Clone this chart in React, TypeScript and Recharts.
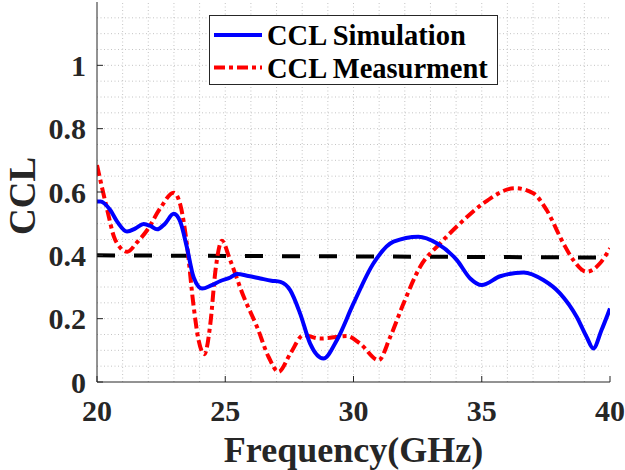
import React from 'react';
import { LineChart, Line, XAxis, YAxis, ReferenceLine } from 'recharts';

const simFreq = [20, 20.14, 20.5, 20.8, 21.17, 21.5, 21.82, 22.1, 22.34, 22.65, 22.99, 23.25, 23.5, 23.77, 24.1, 24.45, 24.81, 25.2, 25.46, 25.9, 26.37, 26.8, 27.15, 27.53, 27.92, 28.31, 28.83, 29.35, 30.0, 30.78, 31.56, 32.53, 33.25, 34.03, 34.55, 35.0, 35.72, 36.63, 37.4, 38.05, 38.7, 39.09, 39.35, 39.67, 40];
const simValue = [0.57, 0.57, 0.545, 0.505, 0.475, 0.485, 0.499, 0.492, 0.482, 0.5, 0.531, 0.505, 0.427, 0.33, 0.295, 0.305, 0.319, 0.33, 0.341, 0.335, 0.327, 0.32, 0.316, 0.29, 0.216, 0.121, 0.074, 0.132, 0.248, 0.375, 0.443, 0.459, 0.438, 0.385, 0.327, 0.306, 0.334, 0.346, 0.322, 0.28, 0.206, 0.142, 0.106, 0.164, 0.232];

const measFreq = [20, 20.4, 20.66, 20.9, 21.18, 21.55, 21.96, 22.47, 22.99, 23.25, 23.5, 23.77, 23.96, 24.19, 24.42, 24.62, 24.87, 25.19, 25.72, 26.24, 26.69, 27.08, 27.54, 28.05, 28.7, 29.74, 30.26, 30.98, 31.43, 31.95, 32.6, 33.38, 34.16, 35.07, 36.3, 37.01, 37.53, 38.18, 38.57, 39.09, 39.61, 40];
const measValue = [0.685, 0.543, 0.459, 0.425, 0.411, 0.44, 0.48, 0.549, 0.598, 0.559, 0.438, 0.237, 0.132, 0.088, 0.185, 0.353, 0.446, 0.385, 0.269, 0.174, 0.079, 0.032, 0.09, 0.148, 0.137, 0.145, 0.121, 0.069, 0.142, 0.248, 0.364, 0.438, 0.501, 0.565, 0.612, 0.596, 0.543, 0.438, 0.385, 0.348, 0.375, 0.422];

const thresholdFreq = [20, 40];
const thresholdValue = [0.4, 0.393];

const xTicks = [20, 25, 30, 35, 40];
const yTicks = [0, 0.2, 0.4, 0.6, 0.8, 1];
const xMinor = [21, 22, 23, 24, 25, 26, 27, 28, 29, 30, 31, 32, 33, 34, 35, 36, 37, 38, 39];
const yMinor = [0.05, 0.1, 0.15, 0.2, 0.25, 0.3, 0.35, 0.4, 0.45, 0.5, 0.55, 0.6, 0.65, 0.7, 0.75, 0.8, 0.85, 0.9, 0.95, 1, 1.05, 1.1, 1.15];

const seriesNames = ['CCL Simulation', 'CCL Measurment'];

const simData = simFreq.map((f, i) => ({ f, v: simValue[i] }));
const measData = measFreq.map((f, i) => ({ f, v: measValue[i] }));
const thrData = thresholdFreq.map((f, i) => ({ f, v: thresholdValue[i] }));

const FONT = '"Liberation Serif", "Times New Roman", serif';
const AX = '#262626';
const RED_DASH = '11 4 4 4';

const tickStyle = { fontFamily: FONT, fontWeight: 'bold', fontSize: 30, fill: AX };

const LegendBox = () => (
  <svg width={289} height={70} style={{ display: 'block' }}>
    <rect x={0.5} y={0.5} width={288} height={69} fill="#fff" stroke={AX} strokeWidth={1} />
    <line x1={5} x2={53} y1={20} y2={20} stroke="#0000ff" strokeWidth={4} />
    <line x1={5} x2={53} y1={52.5} y2={52.5} stroke="#ff0000" strokeWidth={4} strokeDasharray={RED_DASH} />
    <text x={58} y={30} fontFamily={FONT} fontWeight="bold" fontSize={28.5} fill="#000">{seriesNames[0]}</text>
    <text x={58} y={62.5} fontFamily={FONT} fontWeight="bold" fontSize={28.5} fill="#000">{seriesNames[1]}</text>
  </svg>
);

export default function App() {
  return (
    <div style={{ position: 'absolute', left: 0, top: 0, width: 625, height: 470, background: '#fff' }}>
      <LineChart width={625} height={470} margin={{ top: 2, right: 15, bottom: 0, left: 0 }}>
        <XAxis
          dataKey="f"
          type="number"
          domain={[20, 40]}
          ticks={xTicks}
          allowDataOverflow
          height={88}
          tickSize={-6}
          tickMargin={24}
          tick={tickStyle}
          axisLine={{ stroke: AX, strokeWidth: 1 }}
          tickLine={{ stroke: AX }}
          label={(props: any) => {
            const vb = props.viewBox || {};
            return (
              <text x={vb.x + vb.width / 2} y={vb.y + 80} textAnchor="middle" fontFamily={FONT} fontWeight="bold" fontSize={36} fill={AX}>
                Frequency(GHz)
              </text>
            );
          }}
        />
        <XAxis
          xAxisId="top"
          orientation="top"
          type="number"
          domain={[20, 40]}
          ticks={xTicks}
          allowDataOverflow
          height={0}
          tickSize={-6}
          tick={false}
          axisLine={{ stroke: AX, strokeWidth: 1 }}
          tickLine={{ stroke: AX }}
        />
        <YAxis
          type="number"
          domain={[0, 1.2]}
          ticks={yTicks}
          allowDataOverflow
          width={97}
          tickSize={-6}
          tickMargin={17}
          tick={tickStyle}
          axisLine={{ stroke: AX, strokeWidth: 1 }}
          tickLine={{ stroke: AX }}
          label={(props: any) => {
            const vb = props.viewBox || {};
            const cy = vb.y + vb.height / 2 + 4;
            return (
              <text x={35} y={cy} transform={`rotate(-90, 35, ${cy})`} textAnchor="middle" fontFamily={FONT} fontWeight="bold" fontSize={37} fill={AX}>
                CCL
              </text>
            );
          }}
        />
        <YAxis
          yAxisId="right"
          orientation="right"
          type="number"
          domain={[0, 1.2]}
          ticks={yTicks}
          allowDataOverflow
          width={0}
          tickSize={-6}
          tick={false}
          axisLine={{ stroke: AX, strokeWidth: 1 }}
          tickLine={{ stroke: AX }}
        />
        {xMinor.map((x) => (
          <ReferenceLine key={'gx' + x} x={x} stroke="#c4c4c4" strokeWidth={1} strokeDasharray="1 2.5" ifOverflow="hidden" />
        ))}
        {yMinor.map((y) => (
          <ReferenceLine key={'gy' + y} y={y} stroke="#c4c4c4" strokeWidth={1} strokeDasharray="1 2.5" ifOverflow="hidden" />
        ))}
        <Line data={thrData} dataKey="v" type="linear" stroke="#000" strokeWidth={4} strokeDasharray="18 19" dot={false} isAnimationActive={false} legendType="none" />
        <Line data={measData} dataKey="v" name={seriesNames[1]} type="monotone" stroke="#ff0000" strokeWidth={4} strokeDasharray={RED_DASH} dot={false} isAnimationActive={false} />
        <Line data={simData} dataKey="v" name={seriesNames[0]} type="monotone" stroke="#0000ff" strokeWidth={4} dot={false} isAnimationActive={false} />
      </LineChart>
      <div style={{ position: 'absolute', left: 209, top: 15 }}>
        <LegendBox />
      </div>
    </div>
  );
}
